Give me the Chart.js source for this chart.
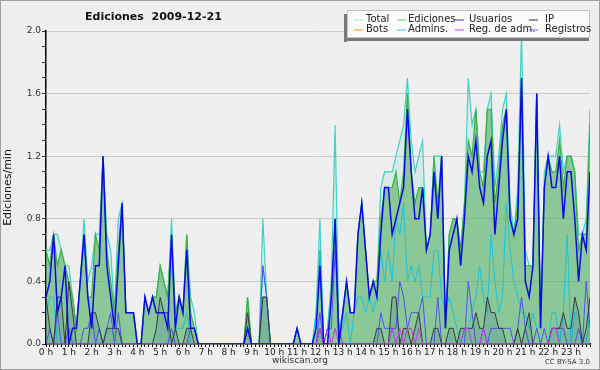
<!DOCTYPE html>
<html>
<head>
<meta charset="utf-8">
<script src="https://cdn.jsdelivr.net/npm/chart.js@4.4.0/dist/chart.umd.min.js"></script>
<style>
  html, body { margin: 0; padding: 0; background: #efefef; }
</style>
</head>
<body>
<canvas id="myChart" width="600" height="370"></canvas>
<script>
var chartTitle = 'Ediciones  2009-12-21';
var axisTitle = 'Ediciones/min';
var hourLabels = ['0 h','1 h','2 h','3 h','4 h','5 h','6 h','7 h','8 h','9 h','10 h','11 h',
                  '12 h','13 h','14 h','15 h','16 h','17 h','18 h','19 h','20 h','21 h','22 h','23 h'];
var yTickLabels = ['0.0', '0.4', '0.8', '1.2', '1.6', '2.0'];

// one value every 10 minutes, one row per hour
var total = [
  0.6, 0.6, 0.7, 0.7, 0.6, 0.5,
  0.5, 0.3, 0.1, 0.4, 0.8, 0.4,
  0.5, 0.7, 0.7, 1.2, 0.7, 0.6,
  0.2, 0.8, 0.9, 0.2, 0.2, 0.2,
  0, 0, 0.3, 0.2, 0.3, 0.3,
  0.5, 0.4, 0.3, 0.8, 0.2, 0.3,
  0.2, 0.7, 0.3, 0.2, 0, 0,
  0, 0, 0, 0, 0, 0,
  0, 0, 0, 0, 0, 0.3,
  0, 0, 0, 0.8, 0.3, 0,
  0, 0, 0, 0, 0, 0,
  0.1, 0, 0, 0, 0, 0.2,
  0.8, 0, 0.1, 0.4, 1.4, 0.1,
  0.2, 0.4, 0.2, 0.2, 0.7, 0.9,
  0.6, 0.3, 0.4, 0.4, 1.0, 1.1,
  1.1, 1.1, 1.2, 1.3, 1.4, 1.7,
  1.3, 1.1, 1.2, 1.3, 0.6, 0.7,
  1.2, 1.2, 1.2, 0.1, 0.7, 0.8,
  0.8, 0.6, 0.9, 1.7, 1.4, 1.5,
  1.1, 1.1, 1.5, 1.6, 1.0, 1.2,
  1.5, 1.6, 0.9, 0.7, 1.0, 2.0,
  0.6, 0.5, 0.5, 1.6, 0.1, 1.1,
  1.2, 1.2, 1.2, 1.4, 1.1, 1.2,
  1.2, 1.1, 0.7, 0.7, 0.8, 1.5
];
var ediciones = [
  0.6, 0.5, 0.7, 0.5, 0.6, 0.5,
  0.4, 0.3, 0.1, 0.4, 0.7, 0.3,
  0.3, 0.7, 0.6, 1.2, 0.6, 0.4,
  0.2, 0.6, 0.9, 0.2, 0.2, 0.2,
  0, 0, 0.3, 0.2, 0.3, 0.3,
  0.5, 0.4, 0.3, 0.7, 0.2, 0.3,
  0.2, 0.7, 0.2, 0.1, 0, 0,
  0, 0, 0, 0, 0, 0,
  0, 0, 0, 0, 0, 0.3,
  0, 0, 0, 0.3, 0.3, 0,
  0, 0, 0, 0, 0, 0,
  0.1, 0, 0, 0, 0, 0.1,
  0.6, 0, 0, 0.3, 0.8, 0,
  0.2, 0.4, 0.2, 0.2, 0.7, 0.9,
  0.6, 0.3, 0.4, 0.4, 0.8, 1.0,
  1.0, 1.0, 1.1, 0.9, 1.1, 1.6,
  1.1, 0.9, 1.0, 1.0, 0.6, 0.7,
  1.2, 0.9, 1.2, 0.1, 0.7, 0.8,
  0.8, 0.6, 0.9, 1.3, 1.2, 1.5,
  1.1, 1.0, 1.5, 1.5, 0.9, 1.1,
  1.4, 1.5, 0.8, 0.7, 0.9, 1.7,
  0.5, 0.5, 0.5, 1.6, 0.1, 1.0,
  1.2, 1.1, 1.1, 1.3, 1.0, 1.2,
  1.2, 1.1, 0.6, 0.7, 0.7, 1.4
];
var usuarios = [
  0.3, 0.4, 0.7, 0.2, 0.3, 0.5,
  0, 0.1, 0.1, 0.4, 0.7, 0.3,
  0.1, 0.5, 0.5, 1.2, 0.5, 0.3,
  0.1, 0.5, 0.9, 0.2, 0.2, 0.2,
  0, 0, 0.3, 0.2, 0.3, 0.2,
  0.2, 0.2, 0.1, 0.7, 0.1, 0.3,
  0.2, 0.6, 0.1, 0.1, 0, 0,
  0, 0, 0, 0, 0, 0,
  0, 0, 0, 0, 0, 0.1,
  0, 0, 0, 0, 0, 0,
  0, 0, 0, 0, 0, 0,
  0.1, 0, 0, 0, 0, 0.1,
  0.5, 0, 0, 0.3, 0.8, 0,
  0.2, 0.4, 0.2, 0.2, 0.7, 0.9,
  0.6, 0.3, 0.4, 0.3, 0.7, 1.0,
  1.0, 0.7, 0.8, 0.9, 1.0, 1.5,
  1.1, 0.8, 0.8, 1.0, 0.6, 0.7,
  1.1, 0.8, 1.2, 0.1, 0.6, 0.7,
  0.8, 0.5, 0.8, 1.2, 1.1, 1.3,
  1.0, 0.9, 1.2, 1.3, 0.7, 1.0,
  1.3, 1.5, 0.8, 0.7, 0.8, 1.7,
  0.4, 0.3, 0.5, 1.6, 0.1, 1.0,
  1.2, 1.0, 1.0, 1.2, 0.8, 1.1,
  1.1, 0.8, 0.4, 0.7, 0.6, 1.1
];
var ip = [
  0.3, 0.1, 0, 0.3, 0.3, 0,
  0.4, 0.2, 0, 0, 0, 0,
  0.2, 0.2, 0.1, 0, 0.1, 0.1,
  0.1, 0.1, 0, 0, 0, 0,
  0, 0, 0, 0, 0, 0.1,
  0.3, 0.2, 0.2, 0, 0.1, 0,
  0, 0.1, 0.1, 0, 0, 0,
  0, 0, 0, 0, 0, 0,
  0, 0, 0, 0, 0, 0.2,
  0, 0, 0, 0.3, 0.3, 0,
  0, 0, 0, 0, 0, 0,
  0, 0, 0, 0, 0, 0,
  0.1, 0, 0, 0, 0, 0,
  0, 0, 0, 0, 0, 0,
  0, 0, 0, 0.1, 0.1, 0,
  0, 0.3, 0.3, 0, 0.1, 0.1,
  0, 0.1, 0.2, 0, 0, 0,
  0.1, 0.1, 0, 0, 0.1, 0.1,
  0, 0.1, 0.1, 0.1, 0.1, 0.2,
  0.1, 0.1, 0.3, 0.2, 0.2, 0.1,
  0.1, 0, 0, 0, 0.1, 0,
  0.1, 0.2, 0, 0, 0, 0,
  0, 0.1, 0.1, 0.1, 0.2, 0.1,
  0.1, 0.3, 0.2, 0, 0.1, 0.3
];
var bots = [
  0, 0, 0, 0, 0, 0,  0, 0, 0, 0, 0, 0,  0, 0, 0, 0, 0, 0,  0, 0, 0, 0, 0, 0,
  0, 0, 0, 0, 0, 0,  0, 0, 0, 0, 0, 0,  0, 0, 0, 0, 0, 0,  0, 0, 0, 0, 0, 0,
  0, 0, 0, 0, 0, 0,  0, 0, 0, 0, 0, 0,  0, 0, 0, 0, 0, 0,  0, 0, 0, 0, 0, 0,
  0, 0, 0, 0, 0, 0,  0, 0, 0, 0, 0, 0,  0, 0, 0, 0, 0, 0,  0, 0, 0, 0, 0, 0,
  0, 0, 0, 0, 0, 0,  0, 0, 0, 0, 0, 0,  0, 0, 0, 0, 0, 0,  0, 0, 0, 0, 0, 0,
  0, 0, 0, 0, 0, 0,  0, 0, 0, 0, 0, 0,  0, 0, 0, 0, 0, 0,  0, 0, 0, 0, 0, 0
];
var admins = [
  0.2, 0.3, 0.3, 0, 0, 0,
  0, 0, 0, 0, 0, 0,
  0, 0, 0, 0, 0, 0,
  0, 0, 0, 0, 0, 0,
  0, 0, 0, 0, 0, 0,
  0, 0, 0, 0, 0.1, 0.1,
  0.1, 0.2, 0, 0, 0, 0,
  0, 0, 0, 0, 0, 0,
  0, 0, 0, 0, 0, 0,
  0, 0, 0, 0.5, 0.3, 0,
  0, 0, 0, 0, 0, 0,
  0, 0, 0, 0, 0, 0.2,
  0.6, 0, 0.1, 0.3, 0.8, 0.1,
  0.1, 0.2, 0, 0.2, 0.3, 0.3,
  0.2, 0.3, 0.2, 0.3, 0.6, 0.4,
  0.6, 0.4, 0.8, 0.7, 0.9, 0.4,
  0.5, 0.4, 0.5, 0.3, 0.3, 0.3,
  0.6, 0.6, 0.3, 0.2, 0.3, 0.2,
  0.1, 0, 0.1, 0.1, 0.2, 0.3,
  0.5, 0.3, 0.2, 0.7, 0.4, 0.2,
  0.3, 0.9, 0.6, 0.4, 0.3, 0.2,
  0.2, 0.1, 0.2, 0.1, 0, 0,
  0, 0.2, 0.2, 0, 0.2, 0.7,
  0, 0.2, 0.2, 0, 0, 0.2
];
var regAdm = [
  0, 0, 0, 0, 0, 0,  0, 0, 0, 0, 0, 0,  0, 0, 0, 0, 0, 0,  0, 0, 0, 0, 0, 0,
  0, 0, 0, 0, 0, 0,  0, 0, 0, 0, 0, 0,  0, 0, 0, 0, 0, 0,  0, 0, 0, 0, 0, 0,
  0, 0, 0, 0, 0, 0,  0, 0, 0, 0, 0, 0,  0, 0, 0, 0, 0, 0,  0, 0, 0, 0, 0, 0,
  0.1, 0, 0.1, 0, 0.1, 0,  0, 0, 0, 0, 0, 0,  0, 0, 0, 0, 0, 0,  0, 0.1, 0, 0.1, 0, 0.1,
  0.1, 0, 0.1, 0, 0, 0,  0, 0, 0, 0, 0, 0,  0, 0, 0.1, 0.1, 0, 0,  0, 0.1, 0, 0, 0, 0,
  0, 0, 0, 0, 0, 0,  0, 0, 0, 0, 0, 0,  0, 0.1, 0.1, 0, 0, 0,  0, 0, 0, 0, 0, 0
];
var registros = [
  0, 0.1, 0, 0.2, 0, 0,
  0.1, 0, 0, 0, 0.1, 0.1,
  0.2, 0, 0.1, 0, 0.1, 0.2,
  0, 0.2, 0, 0, 0, 0,
  0, 0, 0, 0, 0, 0,
  0, 0, 0, 0.1, 0, 0,
  0, 0, 0.1, 0.1, 0, 0,
  0, 0, 0, 0, 0, 0,
  0, 0, 0, 0, 0, 0,
  0, 0, 0, 0.5, 0.3, 0,
  0, 0, 0, 0, 0, 0,
  0, 0, 0, 0, 0, 0,
  0.2, 0, 0.1, 0.1, 0.6, 0.1,
  0, 0, 0, 0, 0, 0,
  0, 0, 0, 0, 0.2, 0.1,
  0.1, 0.1, 0.1, 0.4, 0.3, 0.1,
  0.2, 0.2, 0.2, 0.3, 0, 0,
  0, 0.3, 0, 0, 0, 0,
  0, 0, 0, 0.4, 0.2, 0,
  0, 0.1, 0, 0.1, 0.1, 0.1,
  0.1, 0.1, 0.1, 0, 0.1, 0.3,
  0.1, 0, 0, 0.1, 0, 0.1,
  0, 0.1, 0.1, 0.1, 0.1, 0,
  0, 0, 0.1, 0, 0.4, 0.1
];

// x positions: index of the 10-minute slot
var slots = [];
for (var i = 0; i < total.length; i++) slots.push(i);

var legendItems = [
  ['Total', '#9ee6e6'], ['Ediciones', '#66cc66'], ['Usuarios', '#3333ff'], ['IP', '#333333'],
  ['Bots', '#ff9900'], ['Admins.', '#22ccdd'], ['Reg. de adm.', '#dd33ff'], ['Registros', '#6666ff']
];

var frame = {
  id: 'frame',
  beforeDraw: function(chart) {
    var c = chart.ctx;
    c.save();
    c.fillStyle = '#efefef';
    c.fillRect(0, 0, chart.width, chart.height);
    c.restore();
  },
  afterDraw: function(chart) {
    var c = chart.ctx;
    c.save();
    c.strokeStyle = '#a0a0a0';
    c.lineWidth = 1;
    c.strokeRect(0.5, 0.5, chart.width - 1, chart.height - 1);

    c.fillStyle = '#111';
    c.textBaseline = 'middle';
    c.font = 'bold 11px "DejaVu Sans"';
    c.fillText(chartTitle, 85, 17);

    c.font = '9px "DejaVu Sans"';
    c.fillStyle = '#333';
    c.textAlign = 'center';
    c.fillText('wikiscan.org', 300, 361);
    c.font = '7px "DejaVu Sans"';
    c.textAlign = 'right';
    c.fillText('CC BY-SA 3.0', 590, 362);

    // legend box with shadow
    c.fillStyle = '#7a7a7a';
    c.fillRect(344, 14, 3, 28);
    c.fillRect(344, 38, 245, 3);
    c.fillStyle = '#fbfbfb';
    c.fillRect(347, 10, 243, 28);
    c.strokeStyle = '#c4c4c4';
    c.strokeRect(347.5, 10.5, 242, 27);

    var lineX = [354, 397, 455, 529];
    var textX = [366, 408, 469, 545];
    c.font = '10px "DejaVu Sans"';
    c.textAlign = 'left';
    for (var k = 0; k < legendItems.length; k++) {
      var col = k % 4, row = Math.floor(k / 4);
      var y = 19.5 + row * 10;
      c.strokeStyle = legendItems[k][1];
      c.lineWidth = 1;
      c.beginPath();
      c.moveTo(lineX[col], y + 0.5);
      c.lineTo(lineX[col] + 9, y + 0.5);
      c.stroke();
      c.fillStyle = '#222';
      c.fillText(legendItems[k][0], textX[col], y);
    }
    c.restore();
  }
};

function serie(label, data, color, order, extra) {
  var d = { label: label, data: data, borderColor: color, backgroundColor: color,
            borderWidth: 1, fill: false, order: order };
  for (var key in extra) d[key] = extra[key];
  return d;
}

var ctx = document.getElementById('myChart');
var myChart = new Chart(ctx, {
  type: 'line',
  data: {
    labels: slots,
    datasets: [
      serie('Total', total, '#3fd3c4', 8, { fill: 'origin', backgroundColor: 'rgba(150,225,210,0.25)', borderWidth: 1.2 }),
      serie('Ediciones', ediciones, '#3cb043', 7, { fill: 'origin', backgroundColor: 'rgba(60,165,70,0.5)', borderWidth: 1.2 }),
      serie('Usuarios', usuarios, '#0a0ae8', 1, { borderWidth: 1.5 }),
      serie('IP', ip, '#3a3a3a', 3, { fill: 'origin', backgroundColor: 'rgba(30,80,170,0.15)' }),
      serie('Bots', bots, '#ff9900', 9),
      serie('Admins.', admins, '#1cc4dc', 5),
      serie('Reg. de adm.', regAdm, '#cc33ee', 2),
      serie('Registros', registros, '#5252f2', 4)
    ]
  },
  options: {
    responsive: false,
    animation: false,
    layout: { padding: { top: 31, right: 10, left: 0, bottom: 0 } },
    elements: { point: { radius: 0 }, line: { tension: 0 } },
    plugins: { legend: { display: false }, title: { display: false }, tooltip: { enabled: false } },
    scales: {
      x: {
        type: 'linear', min: 0, max: 143,
        afterFit: function(s) { s.height = 26; },
        border: { color: '#000', width: 1.5 },
        grid: { drawOnChartArea: false, tickLength: 3, tickColor: '#000' },
        ticks: {
          stepSize: 1, autoSkip: false, maxRotation: 0, minRotation: 0, padding: 0,
          color: '#222', font: { size: 9, family: 'DejaVu Sans' },
          callback: function(v) { return v % 6 === 0 ? hourLabels[v / 6] : ''; }
        }
      },
      y: {
        min: 0, max: 2,
        afterFit: function(s) { s.width = 46; },
        border: { color: '#000', width: 1.5 },
        grid: {
          tickLength: 4, tickColor: '#333',
          color: function(c) {
            if (!c.tick) return 'rgba(0,0,0,0)';
            var k = Math.round(c.tick.value * 10);
            return (k > 0 && k % 4 === 0) ? '#cccccc' : 'rgba(0,0,0,0)';
          }
        },
        ticks: {
          stepSize: 0.1, autoSkip: false, padding: 1,
          color: '#333', font: { size: 9, family: 'DejaVu Sans' },
          callback: function(v) {
            var k = Math.round(v * 10);
            return k % 4 === 0 ? yTickLabels[k / 4] : '';
          }
        },
        title: { display: true, text: axisTitle, color: '#111', font: { size: 11, family: 'DejaVu Sans' }, padding: 2 }
      }
    }
  },
  plugins: [frame]
});
</script>
</body>
</html>
